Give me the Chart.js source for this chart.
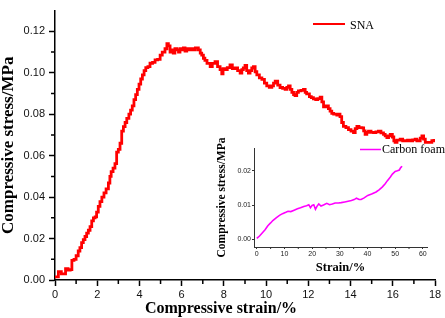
<!DOCTYPE html>
<html>
<head>
<meta charset="utf-8">
<title>Compressive stress-strain</title>
<script src="https://cdn.jsdelivr.net/npm/chart.js@4.4.0/dist/chart.umd.min.js"></script>
<style>
    html, body { margin: 0; padding: 0; background: #fff; }
    #wrap { position: relative; width: 445px; height: 318px; }
    #mainChart { position: absolute; left: 0; top: 0; }
    #insetChart { position: absolute; left: 215px; top: 135px; }
</style>
</head>
<body>
<div id="wrap">
    <canvas id="mainChart" width="445" height="318"></canvas>
    <canvas id="insetChart" width="225" height="145"></canvas>
</div>
<script>
// SNA (main plot): strain in %, stress in MPa
var snaStrain = [0.00, 0.08, 0.16, 0.30, 0.40, 0.50, 0.62, 0.72, 0.80, 0.90,
    1.00, 1.10, 1.18, 1.26, 1.34, 1.42, 1.50, 1.58, 1.66, 1.74,
    1.82, 1.90, 1.97, 2.05, 2.13, 2.22, 2.32, 2.42, 2.53, 2.60,
    2.66, 2.75, 2.84, 2.92, 3.00, 3.08, 3.16, 3.24, 3.32, 3.40,
    3.50, 3.58, 3.66, 3.74, 3.82, 3.90, 3.98, 4.06, 4.14, 4.22,
    4.30, 4.40, 4.50, 4.62, 4.74, 4.86, 4.98, 5.08, 5.21, 5.30,
    5.37, 5.45, 5.53, 5.60, 5.68, 5.77, 5.85, 5.92, 6.00, 6.08,
    6.16, 6.24, 6.35, 6.45, 6.55, 6.65, 6.79, 6.88, 6.95, 7.03,
    7.10, 7.20, 7.35, 7.45, 7.58, 7.70, 7.82, 7.90, 7.96, 8.06,
    8.16, 8.29, 8.40, 8.53, 8.65, 8.77, 8.85, 8.92, 9.00, 9.08,
    9.16, 9.24, 9.32, 9.40, 9.48, 9.56, 9.68, 9.80, 9.92, 10.03,
    10.15, 10.27, 10.35, 10.43, 10.55, 10.66, 10.78, 10.90, 10.98, 11.06,
    11.14, 11.22, 11.30, 11.37, 11.45, 11.53, 11.65, 11.77, 11.85, 11.92,
    12.05, 12.14, 12.24, 12.35, 12.45, 12.56, 12.64, 12.72, 12.82, 12.95,
    13.03, 13.11, 13.20, 13.35, 13.42, 13.50, 13.58, 13.66, 13.78, 13.90,
    14.02, 14.14, 14.22, 14.30, 14.40, 14.54, 14.62, 14.69, 14.77, 14.85,
    14.97, 15.09, 15.20, 15.32, 15.44, 15.56, 15.64, 15.72, 15.80, 15.88,
    15.98, 16.05, 16.11, 16.20, 16.35, 16.47, 16.59, 16.70, 16.82, 16.94,
    17.06, 17.14, 17.22, 17.30, 17.38, 17.46, 17.54, 17.66, 17.77, 17.85,
    17.95];
var snaStress = [0.0015, 0.0015, 0.0040, 0.0030, 0.0030, 0.0055, 0.0048, 0.0050, 0.0095, 0.0100,
    0.0117, 0.0140, 0.0156, 0.0180, 0.0195, 0.0210, 0.0226, 0.0240, 0.0258, 0.0285,
    0.0300, 0.0305, 0.0328, 0.0355, 0.0378, 0.0400, 0.0420, 0.0440, 0.0468, 0.0500,
    0.0523, 0.0540, 0.0562, 0.0617, 0.0630, 0.0660, 0.0718, 0.0740, 0.0760, 0.0780,
    0.0800, 0.0820, 0.0840, 0.0870, 0.0895, 0.0920, 0.0945, 0.0970, 0.0990, 0.1010,
    0.1025, 0.1030, 0.1046, 0.1050, 0.1062, 0.1065, 0.1085, 0.1100, 0.1116, 0.1140,
    0.1130, 0.1100, 0.1110, 0.1095, 0.1116, 0.1110, 0.1100, 0.1116, 0.1110, 0.1120,
    0.1105, 0.1116, 0.1110, 0.1116, 0.1110, 0.1120, 0.1110, 0.1095, 0.1085, 0.1070,
    0.1060, 0.1045, 0.1030, 0.1045, 0.1054, 0.1030, 0.1015, 0.0995, 0.1020, 0.1015,
    0.1025, 0.1038, 0.1020, 0.1023, 0.1010, 0.0999, 0.1015, 0.1023, 0.1035, 0.1010,
    0.0999, 0.1010, 0.1023, 0.1030, 0.1005, 0.0990, 0.0975, 0.0968, 0.0950, 0.0937,
    0.0930, 0.0937, 0.0950, 0.0960, 0.0940, 0.0929, 0.0925, 0.0920, 0.0930, 0.0937,
    0.0920, 0.0905, 0.0895, 0.0890, 0.0905, 0.0913, 0.0915, 0.0920, 0.0905, 0.0898,
    0.0885, 0.0880, 0.0874, 0.0870, 0.0875, 0.0882, 0.0860, 0.0835, 0.0840, 0.0827,
    0.0815, 0.0804, 0.0800, 0.0796, 0.0800, 0.0788, 0.0760, 0.0741, 0.0735, 0.0726,
    0.0718, 0.0711, 0.0730, 0.0741, 0.0735, 0.0734, 0.0720, 0.0703, 0.0712, 0.0718,
    0.0712, 0.0711, 0.0715, 0.0718, 0.0710, 0.0703, 0.0695, 0.0687, 0.0695, 0.0703,
    0.0690, 0.0672, 0.0664, 0.0675, 0.0680, 0.0672, 0.0671, 0.0675, 0.0671, 0.0676,
    0.0680, 0.0672, 0.0671, 0.0685, 0.0695, 0.0680, 0.0664, 0.0664, 0.0664, 0.0672,
    0.0680];

// Carbon foam (inset)
var foamStrain = [0, 1, 2.2, 3, 4, 5, 5.8, 7, 8.2, 9.3,
    10.5, 11.3, 12.3, 13.5, 14.7, 15.8, 17, 18, 18.8, 19.4,
    20, 20.6, 21.2, 21.8, 22.4, 23.2, 24.1, 25.3, 26.3, 27.3,
    28.3, 29.5, 30.5, 31.8, 33, 34.2, 35.2, 36, 37, 37.7,
    38.8, 40.1, 41.5, 43.1, 44.3, 45.4, 46.4, 47.2, 48.2, 49,
    50, 50.8, 51.5, 52, 52.5];
var foamStress = [0.0003, 0.0010, 0.0021, 0.0028, 0.0040, 0.0048, 0.0055, 0.0063, 0.0070, 0.0075,
    0.0079, 0.0082, 0.0081, 0.0085, 0.0089, 0.0092, 0.0096, 0.0098, 0.0101, 0.0092,
    0.0099, 0.0101, 0.0088, 0.0097, 0.0103, 0.0097, 0.0100, 0.0105, 0.0101, 0.0103,
    0.0106, 0.0106, 0.0107, 0.0109, 0.0111, 0.0113, 0.0116, 0.0120, 0.0116, 0.0116,
    0.0121, 0.0128, 0.0132, 0.0138, 0.0145, 0.0153, 0.0162, 0.0171, 0.0181, 0.0190,
    0.0198, 0.0200, 0.0202, 0.0209, 0.0213];

// tick values
var mainXTicks = [0, 2, 4, 6, 8, 10, 12, 14, 16, 18];
var mainXMinor = [1, 3, 5, 7, 9, 11, 13, 15, 17];
var mainYTicks = [0, 0.02, 0.04, 0.06, 0.08, 0.10, 0.12];
var mainYMinor = [0.01, 0.03, 0.05, 0.07, 0.09, 0.11];
var insetXTicks = [0, 10, 20, 30, 40, 50, 60];
var insetXMinor = [5, 15, 25, 35, 45, 55];
var insetYTicks = [0, 0.01, 0.02];

var serif = '"Liberation Serif", "Times New Roman", serif';
var sans = '"Liberation Sans", Arial, sans-serif';

function toPoints(xs, ys) {
    return xs.map((x, i) => ({ x: x, y: ys[i] }));
}

function useTicks(values) {
    return function (scale) {
        scale.ticks = values.map(v => ({ value: v }));
    };
}

// short unlabeled ticks between the labeled ones
function minorTicks(id, xMinor, yMinor, len, width, color) {
    return {
        id: id,
        afterDraw(chart) {
            var ctx = chart.ctx;
            var xs = chart.scales.x, ys = chart.scales.y;
            ctx.save();
            ctx.strokeStyle = color;
            ctx.lineWidth = width;
            ctx.beginPath();
            xMinor.forEach(v => {
                var px = xs.getPixelForValue(v);
                ctx.moveTo(px, xs.top);
                ctx.lineTo(px, xs.top + len);
            });
            yMinor.forEach(v => {
                var py = ys.getPixelForValue(v);
                ctx.moveTo(ys.right, py);
                ctx.lineTo(ys.right - len, py);
            });
            ctx.stroke();
            ctx.restore();
        }
    };
}

// legend entries and the main x title (off-centre in the original)
var annotations = {
    id: 'annotations',
    afterDraw(chart) {
        var ctx = chart.ctx;
        ctx.save();
        ctx.lineWidth = 2;
        ctx.strokeStyle = '#ff0000';
        ctx.beginPath();
        ctx.moveTo(313, 24);
        ctx.lineTo(345, 24);
        ctx.stroke();
        ctx.lineWidth = 1.5;
        ctx.strokeStyle = '#ff00ff';
        ctx.beginPath();
        ctx.moveTo(360, 149.5);
        ctx.lineTo(381, 149.5);
        ctx.stroke();

        ctx.fillStyle = '#000';
        ctx.textBaseline = 'alphabetic';
        ctx.textAlign = 'left';
        ctx.font = '12px ' + serif;
        ctx.fillText('SNA', 350, 28.5);
        ctx.fillText('Carbon foam', 382, 153);

        ctx.textAlign = 'center';
        ctx.font = 'bold 16px ' + serif;
        ctx.fillText('Compressive strain/%', 221, 313);
        ctx.restore();
    }
};

var mainChart = new Chart(document.getElementById('mainChart').getContext('2d'), {
    type: 'line',
    data: {
        datasets: [{
            label: 'SNA',
            data: toPoints(snaStrain, snaStress),
            borderColor: '#ff0000',
            borderWidth: 2.8,
            pointRadius: 0,
            stepped: true,
            fill: false
        }]
    },
    options: {
        responsive: false,
        animation: false,
        devicePixelRatio: 1,
        layout: { padding: { top: 2, right: 10, left: 0, bottom: 0 } },
        plugins: { legend: { display: false }, tooltip: { enabled: false } },
        scales: {
            x: {
                type: 'linear',
                min: 0,
                max: 18,
                afterBuildTicks: useTicks(mainXTicks),
                afterFit: s => { s.height = 38; },
                border: { color: '#000', width: 1.5 },
                grid: { drawOnChartArea: false, color: '#000', tickLength: 6, tickWidth: 1.5 },
                ticks: {
                    color: '#111', padding: 2, maxRotation: 0, autoSkip: false,
                    font: { family: sans, size: 11 },
                    callback: v => String(v)
                }
            },
            y: {
                type: 'linear',
                min: 0,
                max: 0.13,
                afterBuildTicks: useTicks(mainYTicks),
                afterFit: s => { s.width = 55; },
                border: { color: '#000', width: 1.5 },
                grid: { drawOnChartArea: false, color: '#000', tickLength: 6, tickWidth: 1.5 },
                ticks: {
                    color: '#111', padding: 4, autoSkip: false,
                    font: { family: sans, size: 11 },
                    callback: v => v.toFixed(2)
                },
                title: {
                    display: true,
                    text: 'Compressive stress/MPa',
                    color: '#000',
                    padding: { top: 0, bottom: 0 },
                    font: { family: serif, size: 17, weight: 'bold', lineHeight: 1 }
                }
            }
        }
    },
    plugins: [minorTicks('mainMinor', mainXMinor, mainYMinor, 4, 1.5, '#000'), annotations]
});

var insetChart = new Chart(document.getElementById('insetChart').getContext('2d'), {
    type: 'line',
    data: {
        datasets: [{
            label: 'Carbon foam',
            data: toPoints(foamStrain, foamStress),
            borderColor: '#ff00ff',
            borderWidth: 1.6,
            pointRadius: 0,
            tension: 0,
            fill: false
        }]
    },
    options: {
        responsive: false,
        animation: false,
        devicePixelRatio: 1,
        layout: { padding: { top: 13, right: 13, left: 0, bottom: 0 } },
        plugins: { legend: { display: false }, tooltip: { enabled: false } },
        scales: {
            x: {
                type: 'linear',
                min: -1,
                max: 61.5,
                afterBuildTicks: useTicks(insetXTicks),
                afterFit: s => { s.height = 33; },
                border: { color: '#333', width: 1 },
                grid: { drawOnChartArea: false, color: '#333', tickLength: 2 },
                ticks: {
                    color: '#222', padding: 1, maxRotation: 0, autoSkip: false,
                    font: { family: sans, size: 7 },
                    callback: v => String(v)
                },
                title: {
                    display: true,
                    text: 'Strain/%',
                    color: '#000',
                    padding: { top: 0, bottom: 5.75 },
                    font: { family: serif, size: 12.5, weight: 'bold', lineHeight: 1 }
                }
            },
            y: {
                type: 'linear',
                min: -0.0022,
                max: 0.0266,
                afterBuildTicks: useTicks(insetYTicks),
                afterFit: s => { s.width = 39; },
                border: { color: '#333', width: 1 },
                grid: { drawOnChartArea: false, color: '#333', tickLength: 2 },
                ticks: {
                    color: '#222', padding: 1, autoSkip: false,
                    font: { family: sans, size: 7 },
                    callback: v => v.toFixed(2)
                },
                title: {
                    display: true,
                    text: 'Compressive stress/MPa',
                    color: '#000',
                    padding: { top: 1, bottom: 0 },
                    font: { family: serif, size: 11.5, weight: 'bold', lineHeight: 1 }
                }
            }
        }
    },
    plugins: [minorTicks('insetMinor', insetXMinor, [], 2, 1, '#333')]
});
</script>
</body>
</html>
